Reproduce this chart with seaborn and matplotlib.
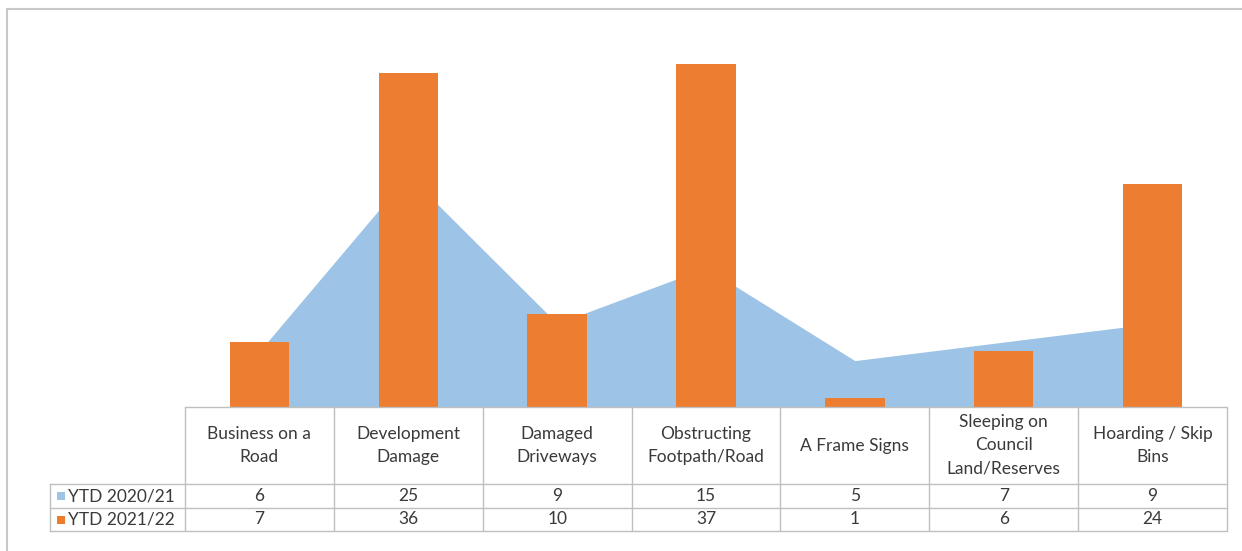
import matplotlib
matplotlib.use("Agg")
import matplotlib.pyplot as plt
import matplotlib.transforms as mtransforms
from matplotlib.lines import Line2D
from matplotlib.patches import Rectangle
import seaborn as sns
import pandas as pd

categories = [
    "Business on a\nRoad",
    "Development\nDamage",
    "Damaged\nDriveways",
    "Obstructing\nFootpath/Road",
    "A Frame Signs",
    "Sleeping on\nCouncil\nLand/Reserves",
    "Hoarding / Skip\nBins",
]
series_names = ["YTD 2020/21", "YTD 2021/22"]
ytd_2020_21 = [6, 25, 9, 15, 5, 7, 9]
ytd_2021_22 = [7, 36, 10, 37, 1, 6, 24]

blue = "#9DC3E6"
orange = "#ED7D31"
grid_grey = "#BFBFBF"
text_col = "#3A3A3A"
fs = 12.5

sns.set_theme(style="white")
plt.rcParams["font.family"] = ["Lato", "DejaVu Sans"]

W, H = 1242, 551
fig = plt.figure(figsize=(W / 100, H / 100), dpi=100)

# plot area in pixel terms
px_left, px_right, px_top, px_bottom = 185, 1227, 36, 407
ax = fig.add_axes([px_left / W, 1 - px_bottom / H,
                   (px_right - px_left) / W, (px_bottom - px_top) / H])

n = len(categories)
xs = list(range(n))

# area series behind the bars
ax.fill_between(xs, 0, ytd_2020_21, color=blue, linewidth=0, zorder=1)

df = pd.DataFrame({"pos": xs, "value": ytd_2021_22})
sns.barplot(data=df, x="pos", y="value", color=orange, width=0.40,
            saturation=1, linewidth=0, ax=ax, zorder=2, native_scale=True)

ax.set_xlim(-0.5, n - 0.5)
ax.set_ylim(0, 40)
ax.set_xticks([])
ax.set_yticks([])
ax.set_xlabel("")
ax.set_ylabel("")
for s in ax.spines.values():
    s.set_visible(False)

# data table below the plot: x in category units, y in figure fraction
trans = mtransforms.blended_transform_factory(ax.transData, fig.transFigure)


def fy(py):
    return 1 - py / H


label_left = -0.5 - (px_left - 50) / ((px_right - px_left) / n)
row_y = [407, 484, 508, 531]
lw = 1.0

# horizontal rules
rules = [([-0.5, n - 0.5], [fy(row_y[0])] * 2)]
for py in row_y[1:]:
    rules.append(([label_left, n - 0.5], [fy(py)] * 2))
# vertical rules
for i in range(n + 1):
    rules.append(([i - 0.5, i - 0.5], [fy(row_y[0]), fy(row_y[-1])]))
rules.append(([label_left, label_left], [fy(row_y[1]), fy(row_y[-1])]))
for xx, yy in rules:
    fig.add_artist(Line2D(xx, yy, transform=trans, color=grid_grey, lw=lw))

header_mid = fy((row_y[0] + row_y[1]) / 2)
for i, cat in enumerate(categories):
    fig.text(i, header_mid, cat, transform=trans, ha="center", va="center",
             fontsize=fs, color=text_col, linespacing=1.55)

rows = [ytd_2020_21, ytd_2021_22]
colors = [blue, orange]
for r, (vals, name, col) in enumerate(zip(rows, series_names, colors)):
    mid = fy((row_y[r + 1] + row_y[r + 2]) / 2)
    for i, v in enumerate(vals):
        fig.text(i, mid, str(v), transform=trans, ha="center", va="center",
                 fontsize=fs, color=text_col)
    fig.text(68 / W, mid, name, ha="left", va="center",
             fontsize=fs, color=text_col)
    fig.add_artist(Rectangle((57 / W, mid - 4 / H), 8 / W, 8 / H,
                             transform=fig.transFigure, color=col, lw=0))

# outer chart frame
fig.add_artist(Line2D([7 / W, 1], [fy(9)] * 2, transform=fig.transFigure,
                      color="#C8C8C8", lw=1.5))
fig.add_artist(Line2D([7 / W, 7 / W], [0, fy(9)], transform=fig.transFigure,
                      color="#C8C8C8", lw=1.5))

fig.savefig("out.png", dpi=100)
